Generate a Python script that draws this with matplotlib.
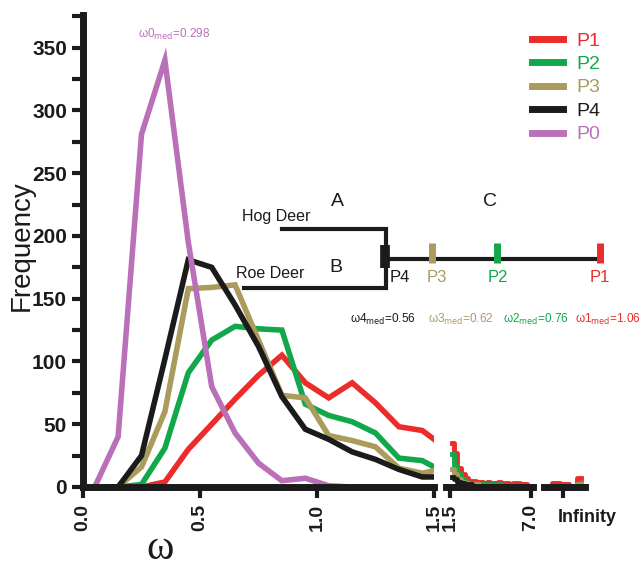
import matplotlib
matplotlib.use('Agg')
import matplotlib.pyplot as plt

plt.rcParams['font.family'] = ['Liberation Sans', 'DejaVu Sans']

RED = '#ec2b2b'
GREEN = '#11a84b'
TAN = '#ab9c5d'
BLACK = '#1b1b1b'
PURPLE = '#ba70b9'

# main panel, bin centres of omega (0 .. 1.5)
omega = [0.05, 0.15, 0.25, 0.35, 0.45, 0.55, 0.65, 0.75, 0.85, 0.95,
         1.05, 1.15, 1.25, 1.35, 1.45, 1.5]
p1 = [0, 0, 0, 4, 30, 50, 70, 89, 105, 83, 71, 83, 67, 48, 45, 38]
p2 = [0, 0, 2, 31, 91, 117, 128, 126, 125, 66, 57, 52, 43, 23, 21, 16]
p3 = [0, 0, 16, 60, 158, 159, 161, 117, 73, 71, 41, 37, 32, 15, 11, 13]
p4 = [0, 0, 25, 102, 181, 175, 145, 112, 72, 46, 38, 28, 22, 14, 8, 8]
p0 = [0, 40, 281, 340, 195, 80, 43, 19, 5, 7, 1, 0, 0, 0, 0, 0]

# tail panel (1.5 .. 7.0)
tail_omega = [1.625, 1.875, 2.125, 2.375, 2.625, 2.875, 3.125, 3.375, 3.625,
              3.875, 4.125, 4.375, 4.625, 4.875, 5.125, 5.375, 5.625, 5.875,
              6.125, 6.375, 6.625, 6.875]
tail_p1 = [35, 27, 15, 10, 7, 5, 5, 4, 4, 3, 4, 3, 3, 4, 3, 3, 2, 3, 3, 2, 2, 1]
tail_p2 = [26, 17, 10, 6, 4, 3, 3, 2, 2, 2, 2, 2, 1, 2, 1, 1, 1, 1, 1, 1, 0, 0]
tail_p3 = [14, 10, 6, 4, 3, 2, 2, 2, 1, 1, 1, 1, 1, 1, 1, 1, 0, 1, 0, 0, 0, 0]
tail_p4 = [8, 6, 4, 3, 2, 2, 1, 1, 1, 1, 1, 1, 1, 0, 1, 0, 0, 0, 0, 0, 0, 0]
tail_p0 = [0] * 22

# infinity panel
inf_pos = [0.1, 0.3, 0.5, 0.7, 0.9]
inf_p1 = [0, 3, 2, 0, 7]
inf_p2 = [0, 0, 1, 0, 3]
inf_p3 = [0, 0, 0, 0, 2]
inf_p4 = [0, 0, 0, 0, 1]
inf_p0 = [0, 0, 0, 0, 0]

labels = ['P1', 'P2', 'P3', 'P4', 'P0']
colors = [RED, GREEN, TAN, BLACK, PURPLE]

W, H = 641, 568
fig = plt.figure(figsize=(W / 100, H / 100), dpi=100)


def box(x0, x1):
    return [x0 / W, (H - 487) / H, (x1 - x0) / W, 472 / H]


ax1 = fig.add_axes(box(83, 434))
ax2 = fig.add_axes(box(446, 533))
ax3 = fig.add_axes(box(544, 585))

for ys, lab, c in zip([p1, p2, p3, p4, p0], labels, colors):
    ax1.plot(omega, ys, color=c, lw=4, label=lab, solid_joinstyle='miter')
for ys, c in zip([tail_p1, tail_p2, tail_p3, tail_p4, tail_p0], colors):
    ax2.plot(tail_omega, ys, color=c, lw=3.5, drawstyle='steps-mid')
for ys, c in zip([inf_p1, inf_p2, inf_p3, inf_p4, inf_p0], colors):
    ax3.plot(inf_pos, ys, color=c, lw=3.5, drawstyle='steps-mid')

for ax in (ax1, ax2, ax3):
    ax.set_ylim(0, 376)
    ax.patch.set_alpha(0)
    for s in ('top', 'right'):
        ax.spines[s].set_visible(False)
    ax.spines['bottom'].set_linewidth(5)
    ax.spines['bottom'].set_color(BLACK)
    ax.tick_params(axis='x', length=8, width=3, colors=BLACK, pad=4)

ax1.set_xlim(0, 1.5)
ax1.spines['left'].set_linewidth(5)
ax1.spines['left'].set_color(BLACK)
ax1.set_yticks(range(0, 351, 50))
ax1.set_yticks(range(25, 376, 50), minor=True)
ax1.tick_params(axis='y', which='both', length=8, width=3, colors=BLACK)
for t in ax1.get_yticklabels():
    t.set_fontsize(15)
    t.set_fontweight('bold')
ax1.set_xticks([0, 0.5, 1.0, 1.5])
ax1.set_xticklabels(['0.0', '0.5', '1.0', '1.5'], rotation=90,
                    fontsize=14, fontweight='bold')

ax2.set_xlim(1.23, 7.14)
ax2.spines['left'].set_visible(False)
ax2.set_yticks([])
ax2.set_xticks([1.5, 7.0])
ax2.set_xticklabels(['1.5', '7.0'], rotation=90, fontsize=14, fontweight='bold')

ax3.set_xlim(0, 1)
ax3.spines['left'].set_visible(False)
ax3.set_yticks([])
ax3.set_xticks([0.46])
ax3.set_xticklabels([''])

ax1.legend(loc='upper left', bbox_to_anchor=(532 / W, 1 - 32 / H),
           bbox_transform=fig.transFigure, frameon=False, fontsize=14,
           handlelength=1.6, handletextpad=0.7, labelspacing=0.3,
           borderpad=0, borderaxespad=0, labelcolor='linecolor')
for line in ax1.get_legend().get_lines():
    line.set_linewidth(5)

# overlay in pixel coordinates for annotations and the tree
ov = fig.add_axes([0, 0, 1, 1])
ov.set_xlim(0, W)
ov.set_ylim(H, 0)
ov.axis('off')

ov.text(22, 246, 'Frequency', rotation=90, fontsize=20, ha='center',
        va='center', color=BLACK)
ov.text(160, 549, 'ω', fontsize=30, family='Liberation Serif', ha='center',
        va='center', color=BLACK)
ov.text(587, 517, 'Infinity', fontsize=13, fontweight='bold', ha='center',
        va='center', color=BLACK)

ov.text(138, 38, r'ω0$_{\rm med}$=0.298', fontsize=8.5, color=PURPLE,
        ha='left', va='baseline')

# tree
ov.plot([282, 386, 386, 244], [229, 229, 288, 288], color=BLACK, lw=3,
        solid_joinstyle='miter')
ov.plot([386, 600], [259, 259], color=BLACK, lw=3)
for x, c, y0, y1, w in [(385, BLACK, 245, 268, 7), (432, TAN, 243, 263, 5),
                        (497, GREEN, 243, 263, 5), (600, RED, 243, 263, 5)]:
    ov.plot([x, x], [y0, y1], color=c, lw=w, solid_capstyle='butt')
ov.text(242, 217, 'Hog Deer', fontsize=11.5, ha='left', va='center', color=BLACK)
ov.text(236, 274, 'Roe Deer', fontsize=11.5, ha='left', va='center', color=BLACK)
ov.text(337, 202, 'A', fontsize=14, ha='center', va='center', color=BLACK)
ov.text(336, 267, 'B', fontsize=14, ha='center', va='center', color=BLACK)
ov.text(490, 202, 'C', fontsize=14, ha='center', va='center', color=BLACK)
for x, lab, c in [(400, 'P4', BLACK), (437, 'P3', TAN), (498, 'P2', GREEN),
                  (600, 'P1', RED)]:
    ov.text(x, 278, lab, fontsize=12, ha='center', va='center', color=c)

for x, lab, c in [(350, r'ω4$_{\rm med}$=0.56', BLACK),
                  (428, r'ω3$_{\rm med}$=0.62', TAN),
                  (503, r'ω2$_{\rm med}$=0.76', GREEN),
                  (575, r'ω1$_{\rm med}$=1.06', RED)]:
    ov.text(x, 323, lab, fontsize=8.5, ha='left', va='baseline', color=c)

fig.savefig('out.png', dpi=100)
